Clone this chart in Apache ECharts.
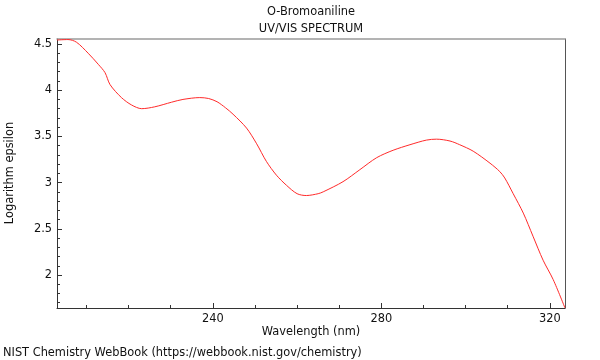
<!DOCTYPE html>
<html>
<head>
<meta charset="utf-8">
<script src="https://cdn.jsdelivr.net/npm/echarts@6/dist/echarts.min.js"></script>
<style>html,body{margin:0;padding:0;background:#fff}#c{width:600px;height:360px}</style>
</head>
<body>
<div id="c"></div>
<script>
// Data
const wavelengths = [203.0, 205.6, 207.6, 210.4, 212.8, 214.4, 215.6, 218.3, 220.7, 223.1, 226.2, 230.2, 232.9, 236.9, 239.0, 241.0, 243.0, 244.8, 248.0, 250.4, 252.7, 255.1, 257.5, 260.0, 262.2, 265.0, 266.2, 270.9, 274.9, 278.9, 282.8, 286.8, 290.7, 293.1, 296.3, 298.6, 301.8, 305.8, 308.1, 309.3, 311.3, 313.7, 316.0, 318.4, 320.8, 323.6];
const logEpsilon = [4.543, 4.548, 4.52, 4.40, 4.28, 4.19, 4.06, 3.92, 3.84, 3.80, 3.82, 3.87, 3.90, 3.92, 3.91, 3.875, 3.81, 3.74, 3.59, 3.42, 3.23, 3.08, 2.97, 2.88, 2.86, 2.88, 2.90, 3.01, 3.14, 3.27, 3.35, 3.41, 3.46, 3.47, 3.45, 3.41, 3.34, 3.21, 3.12, 3.05, 2.88, 2.67, 2.42, 2.16, 1.95, 1.643];
const xTickLabels = [240, 280, 320];
const xMinorTicks = [210, 220, 230, 250, 260, 270, 290, 300, 310];
const yTickLabels = [2, 2.5, 3, 3.5, 4, 4.5];
const yMinorTicks = [1.7, 1.8, 1.9, 2.1, 2.2, 2.3, 2.4, 2.6, 2.7, 2.8, 2.9, 3.1, 3.2, 3.3, 3.4, 3.6, 3.7, 3.8, 3.9, 4.1, 4.2, 4.3, 4.4];
const titleLines = ['O-Bromoaniline', 'UV/VIS SPECTRUM'];
const xName = 'Wavelength (nm)';
const yName = 'Logarithm epsilon';
const footer = 'NIST Chemistry WebBook (https://webbook.nist.gov/chemistry)';

const X_MIN = 203.0, X_MAX = 323.6, Y_MIN = 1.643, Y_MAX = 4.554;
const FONT = 'DejaVu Sans';
const FS = 11.4;
const FONT_STR = FS + 'px "' + FONT + '"';

const chart = echarts.init(document.getElementById('c'), null, {renderer: 'canvas'});
const hidden = {show: false};
function xAx(extra) {
  return Object.assign({type: 'value', min: X_MIN, max: X_MAX, splitLine: hidden, axisLabel: hidden, axisTick: hidden, axisLine: hidden}, extra);
}
function yAx(extra) {
  return Object.assign({type: 'value', min: Y_MIN, max: Y_MAX, splitLine: hidden, axisLabel: hidden, axisTick: hidden, axisLine: hidden}, extra);
}
chart.setOption({
  animation: false,
  grid: {left: 57, right: 35, top: 39, bottom: 52, containLabel: false},
  xAxis: [
    xAx({position: 'bottom',
      axisLine: {show: true, onZero: false, lineStyle: {color: '#333', width: 1}},
      axisTick: {show: true, inside: true, length: 5, customValues: xTickLabels, lineStyle: {color: '#333'}},
      axisLabel: {show: true, customValues: xTickLabels, margin: 6, color: '#111', fontFamily: FONT, fontSize: FS}}),
    xAx({position: 'bottom',
      axisLine: {show: false, onZero: false},
      axisTick: {show: true, inside: true, length: 3, customValues: xMinorTicks, lineStyle: {color: '#333'}}}),
    xAx({position: 'top',
      axisLine: {show: true, onZero: false, lineStyle: {color: '#9a9a9a', width: 1.5}}})
  ],
  yAxis: [
    yAx({position: 'left',
      axisLine: {show: true, onZero: false, lineStyle: {color: '#333', width: 1}},
      axisTick: {show: true, inside: true, length: 5, customValues: yTickLabels, lineStyle: {color: '#333'}},
      axisLabel: {show: true, customValues: yTickLabels, margin: 5, color: '#111', fontFamily: FONT, fontSize: FS}}),
    yAx({position: 'left',
      axisLine: {show: false, onZero: false},
      axisTick: {show: true, inside: true, length: 3, customValues: yMinorTicks, lineStyle: {color: '#333'}}}),
    yAx({position: 'right',
      axisLine: {show: true, onZero: false, lineStyle: {color: '#555', width: 1}}})
  ],
  graphic: [
    {type: 'text', x: 311, y: 12, style: {text: titleLines[0], font: FONT_STR, fill: '#111', align: 'center', verticalAlign: 'middle'}},
    {type: 'text', x: 311, y: 29, style: {text: titleLines[1], font: FONT_STR, fill: '#111', align: 'center', verticalAlign: 'middle'}},
    {type: 'text', x: 311, y: 332, style: {text: xName, font: FONT_STR, fill: '#111', align: 'center', verticalAlign: 'middle'}},
    {type: 'text', x: 10, y: 173, rotation: Math.PI / 2, style: {text: yName, font: FONT_STR, fill: '#111', align: 'center', verticalAlign: 'middle'}},
    {type: 'text', x: 3, y: 353, style: {text: footer, font: FONT_STR, fill: '#111', align: 'left', verticalAlign: 'middle'}}
  ],
  series: [{
    type: 'line',
    xAxisIndex: 0, yAxisIndex: 0,
    data: wavelengths.map((w, i) => [w, logEpsilon[i]]),
    showSymbol: false,
    smooth: 0.3,
    clip: true,
    lineStyle: {color: '#ff2a2a', width: 1}
  }]
});
</script>
</body>
</html>
